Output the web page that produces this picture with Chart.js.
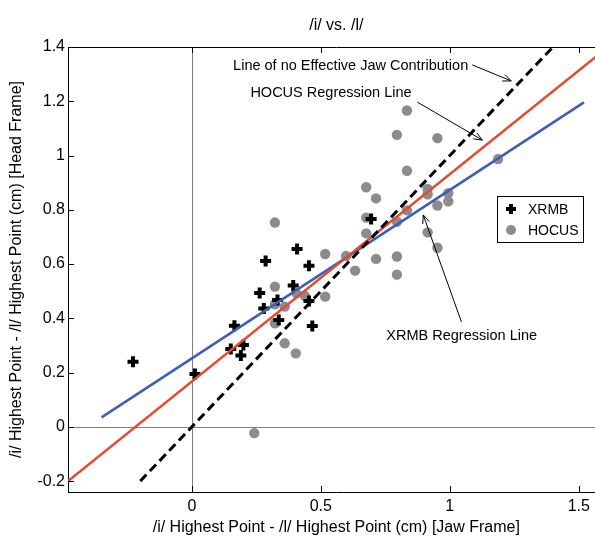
<!DOCTYPE html>
<html>
<head>
<meta charset="utf-8">
<script src="https://cdn.jsdelivr.net/npm/chart.js@4"></script>
<style>
  html, body { margin: 0; padding: 0; background: #fff; overflow: hidden; }
  #wrap { width: 595px; height: 537px; overflow: hidden; }
</style>
</head>
<body>
<div id="wrap"><canvas id="jawChart" width="615" height="537"></canvas></div>
<script>
const xTicks = [0, 0.5, 1, 1.5];
const yTicks = [-0.2, 0, 0.2, 0.4, 0.6, 0.8, 1, 1.2, 1.4];

// XRMB measurements (black crosses)
const xrmbX = [-0.228, 0.012, 0.151, 0.165, 0.19, 0.2, 0.263, 0.279, 0.286, 0.332, 0.337, 0.393, 0.408, 0.454, 0.454, 0.467, 0.695];
const xrmbY = [0.24, 0.195, 0.287, 0.373, 0.263, 0.302, 0.493, 0.436, 0.611, 0.468, 0.394, 0.521, 0.656, 0.594, 0.464, 0.372, 0.766];

// HOCUS measurements (grey dots)
const hocusX = [0.242, 0.322, 0.322, 0.322, 0.322, 0.36, 0.36, 0.403, 0.405, 0.438, 0.517, 0.517, 0.598, 0.633,
  0.676, 0.676, 0.676, 0.714, 0.714, 0.795, 0.795, 0.795, 0.795, 0.834, 0.834, 0.834,
  0.914, 0.914, 0.914, 0.952, 0.952, 0.952, 0.994, 0.994, 1.187];
const hocusY = [-0.023, 0.753, 0.517, 0.452, 0.382, 0.443, 0.308, 0.271, 0.493, 0.483, 0.637, 0.48, 0.63, 0.576,
  0.883, 0.771, 0.713, 0.842, 0.619, 1.076, 0.756, 0.628, 0.561, 1.166, 0.944, 0.798,
  0.877, 0.857, 0.717, 1.064, 0.816, 0.66, 0.861, 0.831, 0.987];

// fitted / reference lines (end points)
const xrmbFitX = [-0.35, 1.52];
const xrmbFitY = [0.035, 1.196];
const hocusFitX = [-0.48, 1.6];
const hocusFitY = [-0.2, 1.39];
const noJawX = [-0.2, 1.4];
const noJawY = [-0.2, 1.4];

const pts = (xs, ys) => xs.map((x, i) => ({ x: x, y: ys[i] }));

const FONT = 'Liberation Sans, Arial, Helvetica, sans-serif';

const notes = [
  { text: 'Line of no Effective Jaw Contribution', tx: 0.16, ty: 1.33, from: [1.087, 1.334], to: [1.238, 1.275] },
  { text: 'HOCUS Regression Line', tx: 0.227, ty: 1.231, from: [0.874, 1.197], to: [1.126, 1.057] },
  { text: 'XRMB Regression Line', tx: 0.754, ty: 0.335, from: [1.045, 0.387], to: [0.897, 0.781] }
];

const extras = {
  id: 'extras',
  beforeDatasetsDraw(chart) {
    const { ctx, chartArea: a, scales: { x, y } } = chart;
    ctx.save();
    ctx.strokeStyle = '#808080';
    ctx.lineWidth = 1;
    const x0 = Math.round(x.getPixelForValue(0)) + 0.5;
    const y0 = Math.round(y.getPixelForValue(0)) + 0.5;
    ctx.beginPath();
    ctx.moveTo(x0, a.top); ctx.lineTo(x0, a.bottom);
    ctx.moveTo(a.left, y0); ctx.lineTo(a.right, y0);
    ctx.stroke();
    ctx.restore();
  },
  afterDraw(chart) {
    const { ctx, chartArea: a, scales: { x, y } } = chart;
    ctx.save();
    // inward tick marks
    ctx.strokeStyle = '#000';
    ctx.lineWidth = 1;
    ctx.beginPath();
    xTicks.forEach(v => {
      const px = Math.round(x.getPixelForValue(v)) + 0.5;
      ctx.moveTo(px, a.bottom); ctx.lineTo(px, a.bottom - 6);
      ctx.moveTo(px, a.top); ctx.lineTo(px, a.top + 6);
    });
    yTicks.forEach(v => {
      const py = Math.round(y.getPixelForValue(v)) + 0.5;
      ctx.moveTo(a.left, py); ctx.lineTo(a.left + 6, py);
      ctx.moveTo(a.right, py); ctx.lineTo(a.right - 6, py);
    });
    ctx.stroke();

    // title
    ctx.fillStyle = '#000';
    ctx.font = '16px ' + FONT;
    ctx.textAlign = 'center';
    ctx.textBaseline = 'middle';
    ctx.fillText('/i/ vs. /l/', (a.left + a.right) / 2, 26);

    // annotations with arrows
    ctx.font = '14.5px ' + FONT;
    ctx.textAlign = 'left';
    notes.forEach(n => {
      ctx.fillText(n.text, x.getPixelForValue(n.tx), y.getPixelForValue(n.ty));
      const fx = x.getPixelForValue(n.from[0]), fy = y.getPixelForValue(n.from[1]);
      const tx = x.getPixelForValue(n.to[0]), ty = y.getPixelForValue(n.to[1]);
      const ang = Math.atan2(ty - fy, tx - fx);
      ctx.beginPath();
      ctx.moveTo(fx, fy); ctx.lineTo(tx, ty);
      ctx.moveTo(tx - 9 * Math.cos(ang - 0.4), ty - 9 * Math.sin(ang - 0.4));
      ctx.lineTo(tx, ty);
      ctx.lineTo(tx - 9 * Math.cos(ang + 0.4), ty - 9 * Math.sin(ang + 0.4));
      ctx.stroke();
    });

    // legend box
    const lx = 497, ly = 196, lw = 86, lh = 46;
    ctx.fillStyle = '#fff';
    ctx.fillRect(lx, ly, lw, lh);
    ctx.strokeStyle = '#000';
    ctx.strokeRect(lx + 0.5, ly + 0.5, lw, lh);
    ctx.lineWidth = 4;
    ctx.beginPath();
    ctx.moveTo(lx + 9, ly + 13); ctx.lineTo(lx + 19, ly + 13);
    ctx.moveTo(lx + 14, ly + 8); ctx.lineTo(lx + 14, ly + 18);
    ctx.stroke();
    ctx.fillStyle = '#8c8c90';
    ctx.beginPath();
    ctx.arc(lx + 14, ly + 34, 5, 0, Math.PI * 2);
    ctx.fill();
    ctx.fillStyle = '#000';
    ctx.font = '14px ' + FONT;
    ctx.textBaseline = 'middle';
    ctx.fillText('XRMB', lx + 31, ly + 14);
    ctx.fillText('HOCUS', lx + 31, ly + 35);
    ctx.restore();
  }
};

new Chart(document.getElementById('jawChart'), {
  type: 'scatter',
  data: {
    datasets: [
      {
        type: 'line', label: 'no jaw', data: pts(noJawX, noJawY), order: 0,
        borderColor: '#000', borderWidth: 3, borderDash: [9, 5], pointRadius: 0, fill: false
      },
      {
        type: 'line', label: 'HOCUS fit', data: pts(hocusFitX, hocusFitY), order: 1,
        borderColor: '#e64a2e', borderWidth: 2.5, pointRadius: 0, fill: false
      },
      {
        type: 'line', label: 'XRMB fit', data: pts(xrmbFitX, xrmbFitY), order: 2,
        borderColor: '#3d5fb3', borderWidth: 2.5, pointRadius: 0, fill: false
      },
      {
        label: 'XRMB', data: pts(xrmbX, xrmbY), order: 3,
        pointStyle: 'cross', pointRadius: 5.5, borderColor: '#000', borderWidth: 4
      },
      {
        label: 'HOCUS', data: pts(hocusX, hocusY), order: 4,
        pointStyle: 'circle', pointRadius: 5.2, backgroundColor: '#8c8c90', borderWidth: 0
      }
    ]
  },
  options: {
    responsive: false,
    animation: false,
    devicePixelRatio: 1,
    layout: { padding: 0 },
    plugins: { legend: { display: false }, tooltip: { enabled: false }, title: { display: false } },
    scales: {
      x: {
        type: 'linear', position: 'bottom', min: -0.48, max: 1.6,
        afterBuildTicks: s => { s.ticks = xTicks.map(v => ({ value: v })); },
        afterFit: s => { s.height = 45; },
        grid: { display: false, drawTicks: false },
        border: { display: true, color: '#000', width: 1 },
        ticks: { color: '#000', font: { family: FONT, size: 16 }, padding: 5, maxRotation: 0,
          callback: v => String(Math.round(v * 10) / 10) },
        title: { display: true, text: '/i/ Highest Point - /l/ Highest Point (cm) [Jaw Frame]',
          color: '#000', font: { family: FONT, size: 16 }, padding: { top: 0, bottom: 0 } }
      },
      xTop: {
        type: 'linear', position: 'top', min: -0.48, max: 1.6,
        afterFit: s => { s.height = 47; },
        grid: { display: false, drawTicks: false },
        border: { display: true, color: '#000', width: 1 },
        ticks: { display: false }
      },
      y: {
        type: 'linear', position: 'left', min: -0.24, max: 1.4,
        afterBuildTicks: s => { s.ticks = yTicks.map(v => ({ value: v })); },
        afterFit: s => { s.width = 68; },
        grid: { display: false, drawTicks: false },
        border: { display: true, color: '#000', width: 1 },
        ticks: { color: '#000', font: { family: FONT, size: 16 }, padding: 3,
          callback: v => String(Math.round(v * 10) / 10) },
        title: { display: true, text: '/i/ Highest Point - /l/ Highest Point (cm) [Head Frame]',
          color: '#000', font: { family: FONT, size: 16 }, padding: { top: 7, bottom: 0 } }
      },
      yRight: {
        type: 'linear', position: 'right', min: -0.24, max: 1.4,
        afterFit: s => { s.width = 10.4; },
        grid: { display: false, drawTicks: false },
        border: { display: true, color: '#000', width: 1 },
        ticks: { display: false }
      }
    }
  },
  plugins: [extras]
});
</script>
</body>
</html>
